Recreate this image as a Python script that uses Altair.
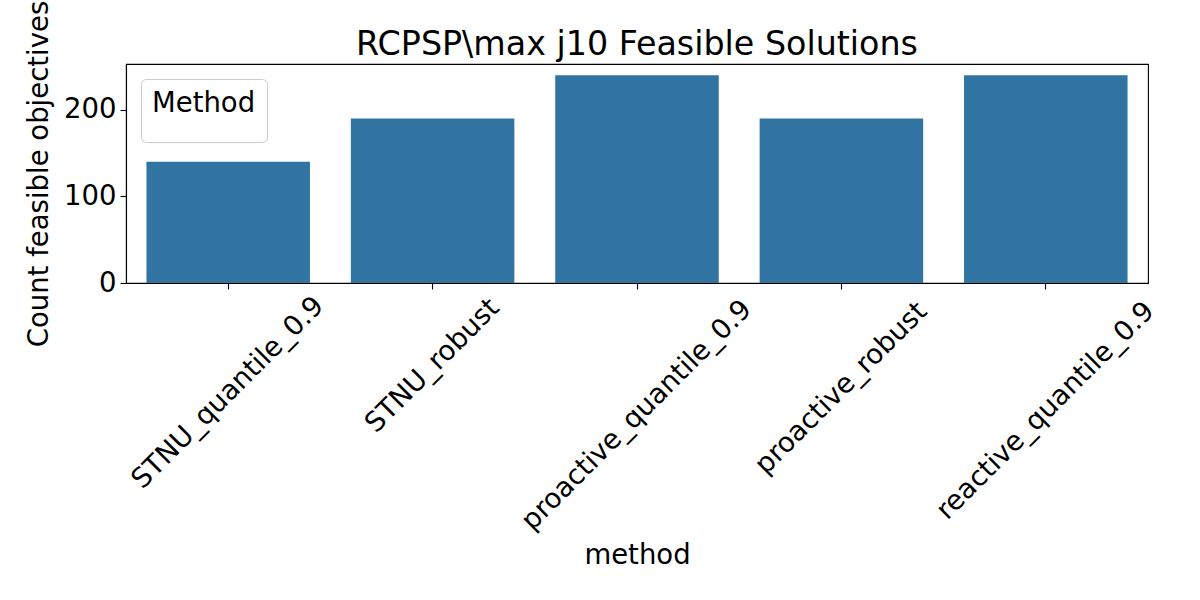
import altair as alt
import pandas as pd

methods = ["STNU_quantile_0.9", "STNU_robust", "proactive_quantile_0.9",
           "proactive_robust", "reactive_quantile_0.9"]
counts = [140, 190, 240, 190, 240]
y_ticks = [0, 100, 200]
y_max = 253

df = pd.DataFrame({"method": methods, "count": counts})

FONT = "DejaVu Sans"
FS = 27.5

chart = alt.Chart(df).mark_bar().encode(
    x=alt.X("method:N", sort=methods, title="method",
            scale=alt.Scale(paddingInner=0.2, paddingOuter=0.1),
            axis=alt.Axis(labelAngle=315, labelAlign="center", labelBaseline="middle",
                          labelPadding={"expr": "27 + 4.5*length(datum.value)"},
                          labelLimit=0, labelOverlap=False, labelBound=False,
                          tickSize=6, titlePadding=58)),
    y=alt.Y("count:Q", title="Count feasible objectives",
            scale=alt.Scale(domain=[0, y_max], nice=False, zero=True),
            axis=alt.Axis(values=y_ticks, grid=False, tickSize=6, labelPadding=4,
                          titlePadding=10)),
    color=alt.Color("method:N", scale=alt.Scale(range=["#3274a1"]),
                    legend=alt.Legend(title=["Method", ""], values=[], orient="none",
                                      legendX=15, legendY=15, padding=11,
                                      strokeColor="#cccccc", fillColor="white",
                                      cornerRadius=5, titleFontSize=FS,
                                      titleFont=FONT, titleFontWeight="normal",
                                      titleLineHeight=13.5,
                                      titleColor="black", titlePadding=0)),
).properties(
    width=1022, height=219,
    title=alt.TitleParams("RCPSP\\max j10 Feasible Solutions", fontSize=33.3, font=FONT,
                          fontWeight="normal", color="black", anchor="middle",
                          frame="group", offset=-62),
    autosize=alt.AutoSizeParams(type="none"),
    padding={"left": 126, "top": 64, "right": 52, "bottom": 317},
).configure_view(
    stroke="black", strokeWidth=1.1
).configure_axis(
    domainColor="black", domainWidth=1.1, tickColor="black", tickWidth=1.1,
    labelColor="black", titleColor="black", labelFont=FONT, titleFont=FONT,
    labelFontSize=FS, titleFontSize=FS, titleFontWeight="normal"
)

chart.save("out.html", embed_options={"renderer": "svg", "actions": False})
